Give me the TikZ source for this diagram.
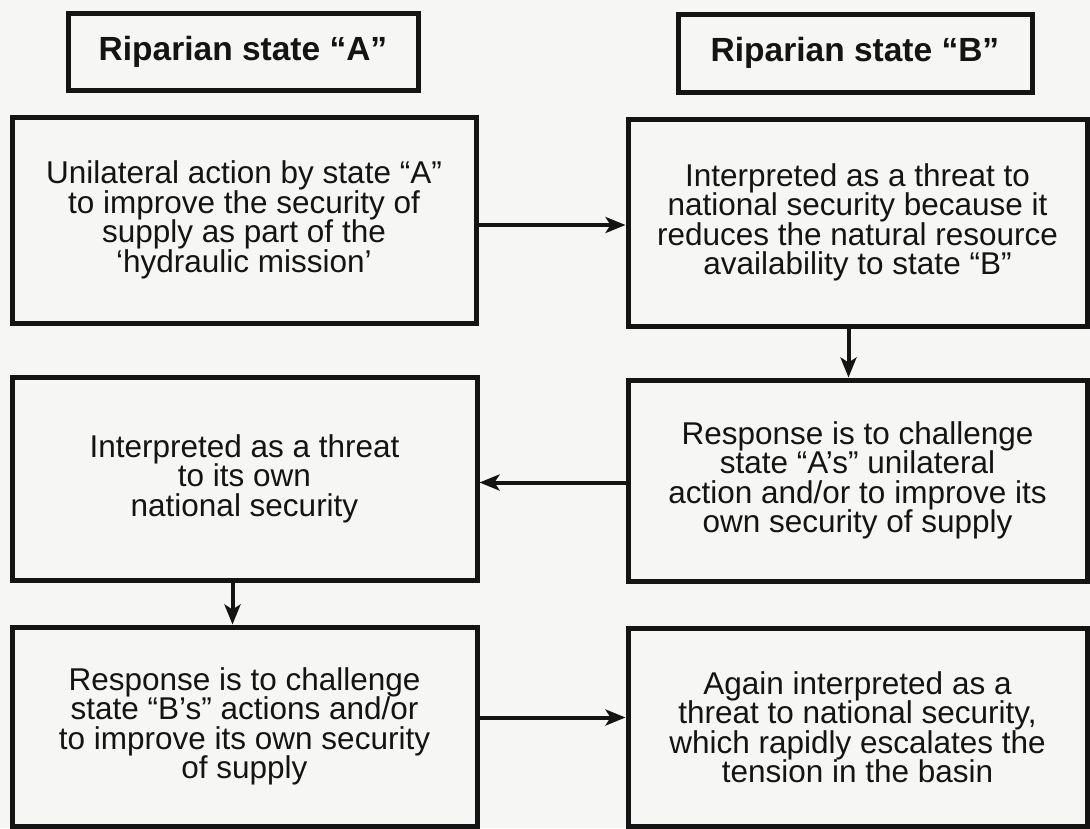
\documentclass[tikz,border=0pt]{standalone}
\usepackage{fontspec}
\setmainfont{Liberation Sans}
\usetikzlibrary{arrows.meta}
\definecolor{ink}{HTML}{141414}
\definecolor{bg}{HTML}{F6F6F4}
\begin{document}
\begin{tikzpicture}[x=1pt,y=-1pt,
  box/.style={draw=ink, line width=5pt, align=center, inner sep=0pt, text=ink,
    font=\fontsize{31.5}{29.5}\selectfont},
  head/.style={box, font=\fontsize{33.5}{36}\selectfont\bfseries},
  arr/.style={draw=ink, line width=4pt, -{Stealth[length=20pt,width=16pt,inset=5pt]}}]
\fill[bg] (0,0) rectangle (1090,828);
\useasboundingbox (0,0) rectangle (1090,828);
\node[head, minimum width=350pt, minimum height=77pt] (hA) at (243,51.5) {Riparian state “A”};
\node[head, minimum width=354pt, minimum height=78pt] (hB) at (855,53) {Riparian state “B”};
\node[box, minimum width=464pt, minimum height=206pt] (b1) at (244,220)
  {Unilateral action by state “A”\\to improve the security of\\supply as part of the\\‘hydraulic mission’};
\node[box, minimum width=459pt, minimum height=207pt] (b2) at (857.5,222.5)
  {Interpreted as a threat to\\national security because it\\reduces the natural resource\\availability to state “B”};
\node[box, minimum width=465pt, minimum height=203pt] (b3) at (244.5,478.5)
  {Interpreted as a threat\\to its own\\national security};
\node[box, minimum width=459pt, minimum height=201pt] (b4) at (857.5,480.5)
  {Response is to challenge\\state “A’s” unilateral\\action and/or to improve its\\own security of supply};
\node[box, minimum width=465pt, minimum height=199pt] (b5) at (244.5,726.5)
  {Response is to challenge\\state “B’s” actions and/or\\to improve its own security\\of supply};
\node[box, minimum width=459pt, minimum height=198pt] (b6) at (857.5,727)
  {Again interpreted as a\\threat to national security,\\which rapidly escalates the\\tension in the basin};
\draw[arr] ([yshift=-5pt]b1.east) -- ([yshift=-5pt]b1.east -| b2.west);
\draw[arr] ([xshift=-9pt]b2.south) -- ([xshift=-9pt]b2.south |- b4.north);
\draw[arr] ([yshift=-2pt]b4.west) -- ([yshift=-2pt]b4.west -| b3.east);
\draw[arr] ([xshift=-12pt]b3.south) -- ([xshift=-12pt]b3.south |- b5.north);
\draw[arr] ([yshift=9pt]b5.east) -- ([yshift=9pt]b5.east -| b6.west);
\end{tikzpicture}
\end{document}
